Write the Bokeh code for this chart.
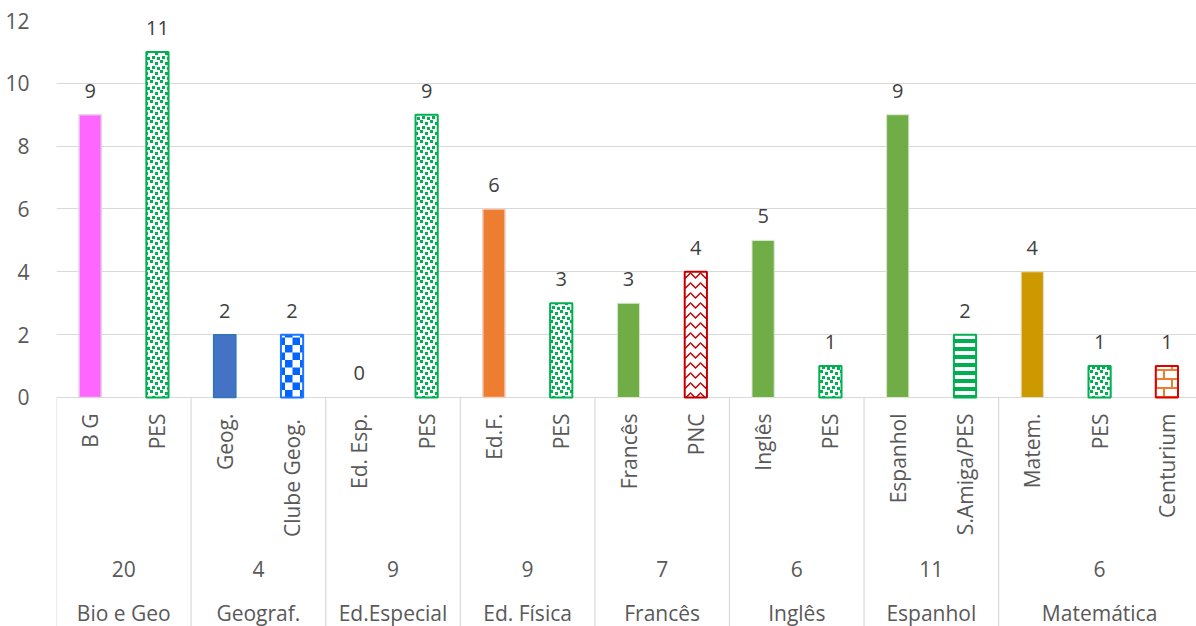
import numpy as np
from bokeh.plotting import figure
from bokeh.models import ColumnDataSource, Range1d, FixedTicker, CanvasTexture
from bokeh.core.properties import value
from bokeh.embed import file_html
from bokeh.resources import INLINE

# ---------------- data ----------------
groups = ["Bio e Geo", "Geograf.", "Ed.Especial", "Ed. Física", "Francês",
          "Inglês", "Espanhol", "Matemática"]
group_totals = [20, 4, 9, 9, 7, 6, 11, 6]
group_items = [["B G", "PES"], ["Geog.", "Clube  Geog."], ["Ed. Esp.", "PES"],
               ["Ed.F.", "PES"], ["Francês", "PNC"], ["Inglês", "PES"],
               ["Espanhol", "S.Amiga/PES"], ["Matem.", "PES", "Centurium"]]
group_values = [[9, 11], [2, 2], [0, 9], [6, 3], [3, 4], [5, 1], [9, 2], [4, 1, 1]]
y_ticks = [0, 2, 4, 6, 8, 10, 12]

# bar styles (one per item)
bar_styles = ["pink", "confetti", "blue", "checker", "none", "confetti", "orange",
              "confetti", "green", "zigzag", "green", "confetti", "green", "stripes",
              "gold", "confetti", "brick"]

# ---------------- derived ----------------
item_labels = [l for g in group_items for l in g]
item_values = [v for g in group_values for v in g]
n = len(item_labels)
xs = [i + 0.5 for i in range(n)]
sizes = [len(g) for g in group_items]
bounds = np.concatenate([[0], np.cumsum(sizes)]).astype(float)
centers = (bounds[:-1] + bounds[1:]) / 2

FONT = value("Open Sans")
FS = "21px"
Y_BOTTOM = -7.29

confetti = CanvasTexture(code="""
ctx.canvas.width = 10; ctx.canvas.height = 10;
ctx.fillStyle = '#00b050';
ctx.fillRect(0, 0, 3, 3);
ctx.fillRect(5, 2, 3, 3);
ctx.fillRect(2, 6, 3, 3);
ctx.fillRect(7, 7, 3, 3);
""")
checker = CanvasTexture(code="""
ctx.canvas.width = 15; ctx.canvas.height = 15;
ctx.fillStyle = '#0066ff';
ctx.fillRect(0, 0, 7.5, 7.5);
ctx.fillRect(7.5, 7.5, 7.5, 7.5);
""")
brick = CanvasTexture(code="""
ctx.canvas.width = 16; ctx.canvas.height = 18;
ctx.fillStyle = '#ed7d31';
ctx.fillRect(0, 0, 16, 2);
ctx.fillRect(0, 9, 16, 2);
ctx.fillRect(3, 0, 2, 9);
ctx.fillRect(11, 9, 2, 9);
""")

STYLE = {
    "pink": dict(fill_color="#ff66ff", line_color="#e3d3e3", line_width=1.5),
    "blue": dict(fill_color="#4472c4", line_color="#2e75b6", line_width=1.5),
    "orange": dict(fill_color="#ed7d31", line_color="#f0d0c0", line_width=1.5),
    "green": dict(fill_color="#70ad47", line_color="#d8e8d0", line_width=1.0),
    "gold": dict(fill_color="#cc9900", line_color="#e8dcc0", line_width=1.0),
    "confetti": dict(fill_color="white", line_color="#00b050", line_width=2,
                     hatch_pattern=value("confetti"), hatch_extra={"confetti": confetti},
                     hatch_color="#00b050", hatch_scale=10),
    "checker": dict(fill_color="white", line_color="#1a75ff", line_width=2,
                    hatch_pattern=value("checker"), hatch_extra={"checker": checker},
                    hatch_color="#0066ff", hatch_scale=15),
    "zigzag": dict(fill_color="white", line_color="#c00000", line_width=2,
                   hatch_pattern="horizontal_wave", hatch_color="#c00000",
                   hatch_scale=10, hatch_weight=1.5),
    "stripes": dict(fill_color="white", line_color="#00b050", line_width=2,
                    hatch_pattern="horizontal_line", hatch_color="#00b050",
                    hatch_scale=8, hatch_weight=4),
    "brick": dict(fill_color="white", line_color="#e00000", line_width=2,
                  hatch_pattern=value("brick"), hatch_extra={"brick": brick},
                  hatch_color="#ed7d31", hatch_scale=18),
}

p = figure(width=1196, height=626, x_range=Range1d(0, 16.94),
           y_range=Range1d(Y_BOTTOM, 12), output_backend="svg",
           toolbar_location=None, x_axis_location=None,
           min_border_left=56, min_border_right=0, min_border_top=20,
           min_border_bottom=0)
p.outline_line_color = None
p.background_fill_color = "white"
p.border_fill_color = "white"

p.xgrid.visible = False
p.ygrid.ticker = FixedTicker(ticks=y_ticks)
p.ygrid.grid_line_color = "#d9d9d9"
p.ygrid.grid_line_width = 1.2

ax = p.yaxis[0]
ax.ticker = FixedTicker(ticks=y_ticks)
ax.axis_line_color = None
ax.major_tick_line_color = None
ax.minor_tick_line_color = None
ax.major_label_standoff = 21
ax.major_label_text_font = "Open Sans"
ax.major_label_text_font_size = FS
ax.major_label_text_color = "#595959"

# separators of the category axis
p.segment(x0=bounds, y0=[0] * len(bounds), x1=bounds, y1=[Y_BOTTOM] * len(bounds),
          line_color="#d9d9d9", line_width=1.2)

# bars
for key, st in STYLE.items():
    idx = [i for i, s in enumerate(bar_styles) if s == key]
    if not idx:
        continue
    src = ColumnDataSource(dict(x=[xs[i] for i in idx], top=[item_values[i] for i in idx]))
    p.vbar(x="x", top="top", bottom=0, width=0.33, source=src, **st)

# value labels
vsrc = ColumnDataSource(dict(x=xs, y=item_values, t=[str(v) for v in item_values]))
p.text(x="x", y="y", text="t", source=vsrc, text_font=FONT, text_font_size="20px",
       text_color="#404040", text_align="center", text_baseline="middle", y_offset=-24)

# item labels (rotated)
isrc = ColumnDataSource(dict(x=xs, y=[0] * n, t=item_labels))
p.text(x="x", y="y", text="t", source=isrc, text_font=FONT, text_font_size=FS,
       text_color="#595959", text_align="right", text_baseline="middle",
       angle=np.pi / 2, y_offset=16)

# group totals
tsrc = ColumnDataSource(dict(x=centers, y=[0] * len(groups), t=[str(v) for v in group_totals]))
p.text(x="x", y="y", text="t", source=tsrc, text_font=FONT, text_font_size=FS,
       text_color="#595959", text_align="center", text_baseline="middle", y_offset=172)

# group names
gsrc = ColumnDataSource(dict(x=centers, y=[0] * len(groups), t=groups))
p.text(x="x", y="y", text="t", source=gsrc, text_font=FONT, text_font_size=FS,
       text_color="#595959", text_align="center", text_baseline="middle", y_offset=216)

open("out.html", "w").write(file_html(p, INLINE))
